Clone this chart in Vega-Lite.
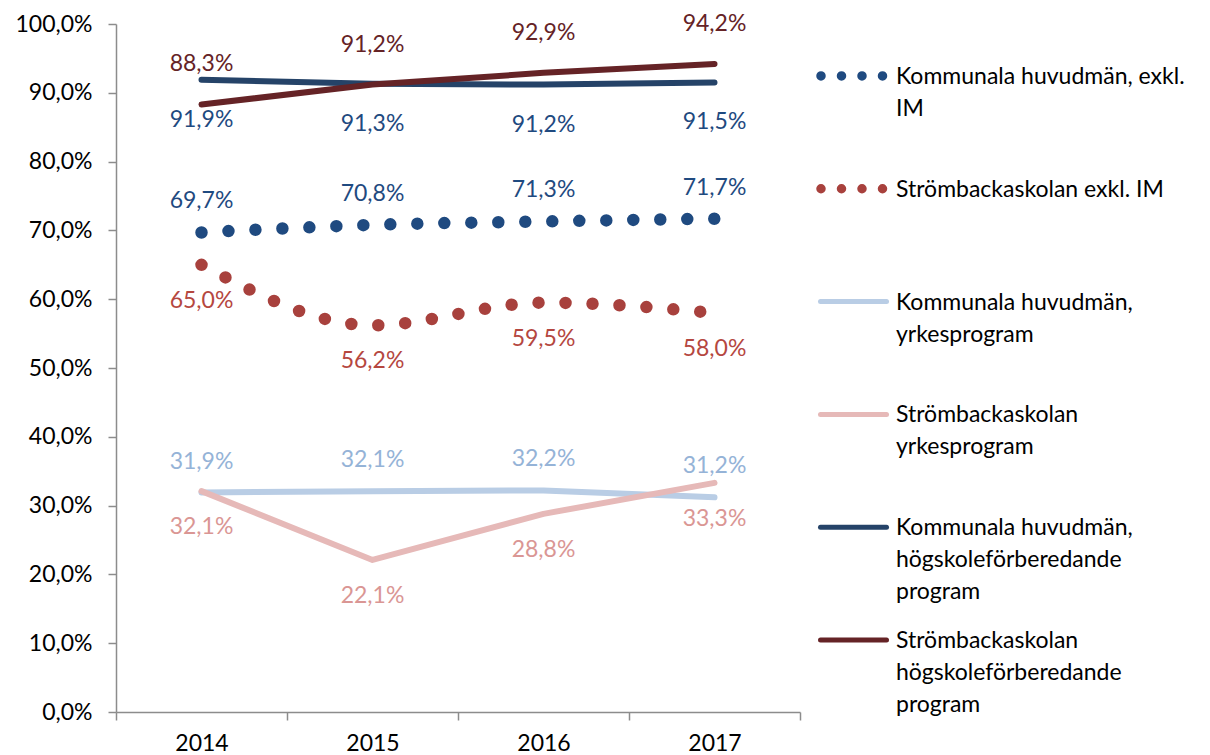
{
  "$schema": "https://vega.github.io/schema/vega-lite/v6.json",
  "padding": {"left": 14, "top": 12, "right": 0, "bottom": 0},
  "config": {
    "view": {"stroke": null},
    "font": "Lato",
    "locale": {"number": {"decimal": ",", "thousands": "\u00a0", "grouping": [3], "currency": ["", " kr"]}}
  },
  "datasets": {
    "main": [
      {"series": "Kommunala huvudmän, exkl. IM", "year": "2014", "value": 0.697},
      {"series": "Kommunala huvudmän, exkl. IM", "year": "2015", "value": 0.708},
      {"series": "Kommunala huvudmän, exkl. IM", "year": "2016", "value": 0.713},
      {"series": "Kommunala huvudmän, exkl. IM", "year": "2017", "value": 0.717},
      {"series": "Strömbackaskolan exkl. IM", "year": "2014", "value": 0.650},
      {"series": "Strömbackaskolan exkl. IM", "year": "2015", "value": 0.562},
      {"series": "Strömbackaskolan exkl. IM", "year": "2016", "value": 0.595},
      {"series": "Strömbackaskolan exkl. IM", "year": "2017", "value": 0.580},
      {"series": "Kommunala huvudmän, yrkesprogram", "year": "2014", "value": 0.319},
      {"series": "Kommunala huvudmän, yrkesprogram", "year": "2015", "value": 0.321},
      {"series": "Kommunala huvudmän, yrkesprogram", "year": "2016", "value": 0.322},
      {"series": "Kommunala huvudmän, yrkesprogram", "year": "2017", "value": 0.312},
      {"series": "Strömbackaskolan yrkesprogram", "year": "2014", "value": 0.321},
      {"series": "Strömbackaskolan yrkesprogram", "year": "2015", "value": 0.221},
      {"series": "Strömbackaskolan yrkesprogram", "year": "2016", "value": 0.288},
      {"series": "Strömbackaskolan yrkesprogram", "year": "2017", "value": 0.333},
      {"series": "Kommunala huvudmän, högskoleförberedande program", "year": "2014", "value": 0.919},
      {"series": "Kommunala huvudmän, högskoleförberedande program", "year": "2015", "value": 0.913},
      {"series": "Kommunala huvudmän, högskoleförberedande program", "year": "2016", "value": 0.912},
      {"series": "Kommunala huvudmän, högskoleförberedande program", "year": "2017", "value": 0.915},
      {"series": "Strömbackaskolan högskoleförberedande program", "year": "2014", "value": 0.883},
      {"series": "Strömbackaskolan högskoleförberedande program", "year": "2015", "value": 0.912},
      {"series": "Strömbackaskolan högskoleförberedande program", "year": "2016", "value": 0.929},
      {"series": "Strömbackaskolan högskoleförberedande program", "year": "2017", "value": 0.942}
    ],
    "legend": [
      {"series": "Kommunala huvudmän, exkl. IM", "label": "Kommunala huvudmän, exkl.\nIM"},
      {"series": "Strömbackaskolan exkl. IM", "label": "Strömbackaskolan exkl. IM"},
      {"series": "Kommunala huvudmän, yrkesprogram", "label": "Kommunala huvudmän,\nyrkesprogram"},
      {"series": "Strömbackaskolan yrkesprogram", "label": "Strömbackaskolan\nyrkesprogram"},
      {"series": "Kommunala huvudmän, högskoleförberedande program", "label": "Kommunala huvudmän,\nhögskoleförberedande\nprogram"},
      {"series": "Strömbackaskolan högskoleförberedande program", "label": "Strömbackaskolan\nhögskoleförberedande\nprogram"}
    ]
  },
  "spacing": 10,
  "hconcat": [
    {
      "width": 684,
      "height": 688,
      "data": {"name": "main"},
      "encoding": {
        "x": {
          "field": "year", "type": "ordinal",
          "scale": {"type": "band", "paddingInner": 0, "paddingOuter": 0},
          "axis": {"title": null, "labelAngle": 0, "tickBand": "extent", "domainColor": "#8C8C8C", "tickColor": "#8C8C8C", "tickSize": 8, "domainWidth": 1.5, "tickWidth": 1.5, "labelFontSize": 23, "labelColor": "#000000", "labelPadding": 12, "grid": false}
        },
        "y": {
          "field": "value", "type": "quantitative",
          "scale": {"domain": [0, 1], "nice": false},
          "axis": {"title": null, "format": ".1%", "values": [0, 0.1, 0.2, 0.3, 0.4, 0.5, 0.6, 0.7, 0.8, 0.9, 1.0], "grid": false, "domainColor": "#8C8C8C", "tickColor": "#8C8C8C", "tickSize": 8, "domainWidth": 1.5, "tickWidth": 1.5, "labelFontSize": 23, "labelColor": "#000000", "labelPadding": 16}
        }
      },
      "layer": [
        {
          "transform": [{"filter": {"field": "series", "oneOf": ["Kommunala huvudmän, yrkesprogram", "Strömbackaskolan yrkesprogram", "Kommunala huvudmän, högskoleförberedande program", "Strömbackaskolan högskoleförberedande program"]}}],
          "mark": {"type": "line", "strokeWidth": 6, "strokeCap": "round", "strokeJoin": "round", "interpolate": "linear"},
          "encoding": {
            "color": {"field": "series", "type": "nominal", "legend": null,
              "scale": {"domain": ["Kommunala huvudmän, yrkesprogram", "Strömbackaskolan yrkesprogram", "Kommunala huvudmän, högskoleförberedande program", "Strömbackaskolan högskoleförberedande program"],
                        "range": ["#B9CDE5", "#E6B9B8", "#254368", "#652326"]}}
          }
        },
        {
          "transform": [{"filter": {"field": "series", "oneOf": ["Kommunala huvudmän, exkl. IM", "Strömbackaskolan exkl. IM"]}}],
          "mark": {"type": "line", "strokeWidth": 12.5, "strokeCap": "round", "strokeDash": [0, 27], "interpolate": "monotone"},
          "encoding": {
            "color": {"field": "series", "type": "nominal", "legend": null,
              "scale": {"domain": ["Kommunala huvudmän, exkl. IM", "Strömbackaskolan exkl. IM"], "range": ["#1F4A80", "#A8413D"]}}
          }
        },
        {
          "transform": [{"filter": {"field": "series", "oneOf": ["Kommunala huvudmän, exkl. IM", "Kommunala huvudmän, yrkesprogram"]}}],
          "mark": {"type": "text", "dy": -31, "fontSize": 23, "baseline": "middle"},
          "encoding": {
            "text": {"field": "value", "type": "quantitative", "format": ".1%"},
            "color": {"field": "series", "type": "nominal", "legend": null,
              "scale": {"domain": ["Kommunala huvudmän, exkl. IM", "Kommunala huvudmän, yrkesprogram"], "range": ["#1F4A80", "#95B3D7"]}}
          }
        },
        {
          "transform": [{"filter": {"field": "series", "equal": "Strömbackaskolan högskoleförberedande program"}}],
          "mark": {"type": "text", "dy": -40, "fontSize": 23, "baseline": "middle", "color": "#652326"},
          "encoding": {
            "text": {"field": "value", "type": "quantitative", "format": ".1%"}
          }
        },
        {
          "transform": [{"filter": {"field": "series", "oneOf": ["Strömbackaskolan exkl. IM", "Strömbackaskolan yrkesprogram"]}}],
          "mark": {"type": "text", "dy": 36, "fontSize": 23, "baseline": "middle"},
          "encoding": {
            "text": {"field": "value", "type": "quantitative", "format": ".1%"},
            "color": {"field": "series", "type": "nominal", "legend": null,
              "scale": {"domain": ["Strömbackaskolan exkl. IM", "Strömbackaskolan yrkesprogram"], "range": ["#B5473F", "#DA9694"]}}
          }
        },
        {
          "transform": [{"filter": {"field": "series", "equal": "Kommunala huvudmän, högskoleförberedande program"}}],
          "mark": {"type": "text", "dy": 40, "fontSize": 23, "baseline": "middle", "color": "#1F4A80"},
          "encoding": {
            "text": {"field": "value", "type": "quantitative", "format": ".1%"}
          }
        }
      ],
      "resolve": {"scale": {"color": "independent"}}
    },
    {
      "width": 390,
      "height": 668,
      "data": {"name": "legend"},
      "encoding": {
        "y": {"field": "series", "type": "nominal", "axis": null,
          "scale": {"type": "point", "padding": 0.46, "domain": ["Kommunala huvudmän, exkl. IM", "Strömbackaskolan exkl. IM", "Kommunala huvudmän, yrkesprogram", "Strömbackaskolan yrkesprogram", "Kommunala huvudmän, högskoleförberedande program", "Strömbackaskolan högskoleförberedande program"]}}
      },
      "layer": [
        {
          "transform": [{"filter": {"field": "series", "oneOf": ["Kommunala huvudmän, exkl. IM", "Strömbackaskolan exkl. IM"]}}],
          "mark": {"type": "rule", "strokeDash": [0, 20.5], "strokeCap": "round", "strokeWidth": 9.5},
          "encoding": {
            "x": {"datum": 10, "type": "quantitative", "scale": {"domain": [0, 390], "nice": false, "zero": false}, "axis": null},
            "x2": {"datum": 72},
            "color": {"field": "series", "type": "nominal", "legend": null,
              "scale": {"domain": ["Kommunala huvudmän, exkl. IM", "Strömbackaskolan exkl. IM", "Kommunala huvudmän, yrkesprogram", "Strömbackaskolan yrkesprogram", "Kommunala huvudmän, högskoleförberedande program", "Strömbackaskolan högskoleförberedande program"],
                        "range": ["#1F4A80", "#A8413D", "#B9CDE5", "#E6B9B8", "#254368", "#652326"]}}
          }
        },
        {
          "transform": [{"filter": {"field": "series", "oneOf": ["Kommunala huvudmän, yrkesprogram", "Strömbackaskolan yrkesprogram", "Kommunala huvudmän, högskoleförberedande program", "Strömbackaskolan högskoleförberedande program"]}}],
          "mark": {"type": "rule", "strokeCap": "round", "strokeWidth": 5},
          "encoding": {
            "x": {"datum": 9.5, "type": "quantitative", "scale": {"domain": [0, 390], "nice": false, "zero": false}, "axis": null},
            "x2": {"datum": 75.5},
            "color": {"field": "series", "type": "nominal", "legend": null,
              "scale": {"domain": ["Kommunala huvudmän, exkl. IM", "Strömbackaskolan exkl. IM", "Kommunala huvudmän, yrkesprogram", "Strömbackaskolan yrkesprogram", "Kommunala huvudmän, högskoleförberedande program", "Strömbackaskolan högskoleförberedande program"],
                        "range": ["#1F4A80", "#A8413D", "#B9CDE5", "#E6B9B8", "#254368", "#652326"]}}
          }
        },
        {
          "mark": {"type": "text", "align": "left", "baseline": "alphabetic", "dy": 8, "lineBreak": "\n", "lineHeight": 32, "fontSize": 23, "color": "#000000"},
          "encoding": {
            "x": {"datum": 85, "type": "quantitative", "scale": {"domain": [0, 390], "nice": false, "zero": false}, "axis": null},
            "text": {"field": "label", "type": "nominal"}
          }
        }
      ]
    }
  ]
}
